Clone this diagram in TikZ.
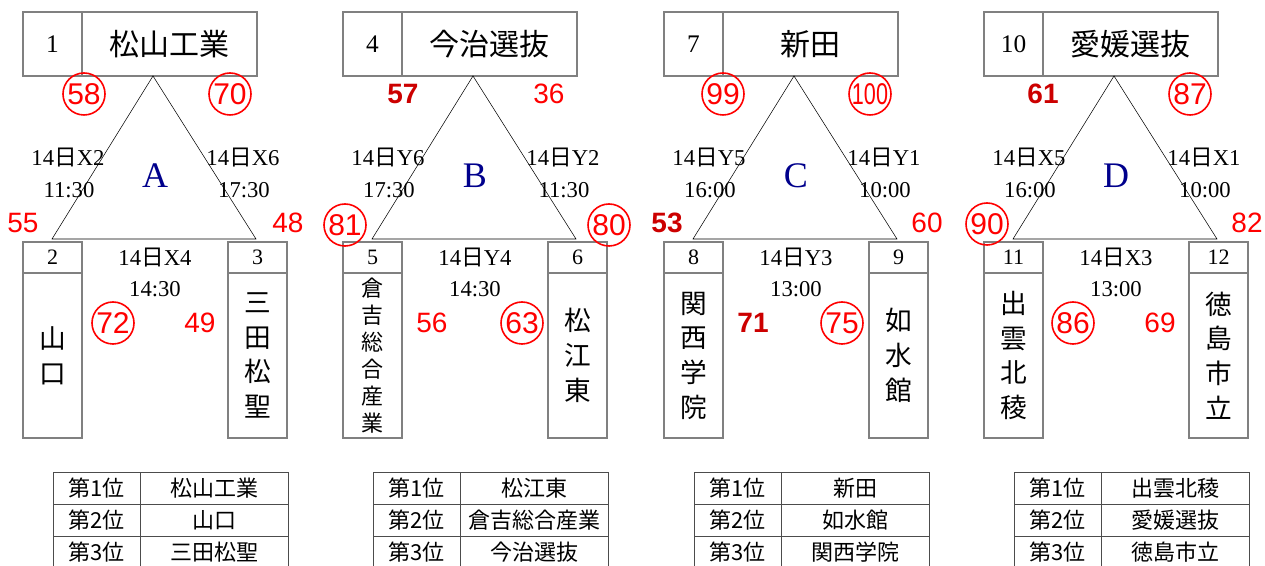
\documentclass[tikz,border=0pt]{standalone}
\usepackage{fontspec}
\setmainfont{Liberation Serif}
\newfontfamily\jp{Noto Sans CJK JP}
\newfontfamily\scorefont{Liberation Sans}
\usetikzlibrary{positioning}

\begin{document}
\begin{tikzpicture}[x=0.75pt, y=-0.75pt,
box/.style={draw=black!50, thick, inner sep=0pt, outer sep=0pt},
numbox/.style={box, minimum width=44.25pt, minimum height=48pt, font=\fontsize{19}{22}\selectfont},
namebox/.style={box, minimum width=131.25pt, minimum height=48pt, font=\fontsize{22.5}{26}\selectfont\jp},
headbox/.style={box, minimum width=44.25pt, minimum height=23.25pt, font=\fontsize{16.5}{19}\selectfont},
teambox/.style={box, minimum width=44.25pt, minimum height=123.75pt, align=center, font=\fontsize{20}{26}\selectfont\jp},
longteam/.style={teambox, font=\fontsize{16.5}{20.25}\selectfont\jp},
datelabel/.style={inner sep=0pt, font=\fontsize{17}{20}\selectfont},
grouplabel/.style={inner sep=0pt, text=blue!55!black, font=\fontsize{27}{30}\selectfont},
score/.style={inner sep=0pt, text=red, font=\scorefont\fontsize{21}{24}\selectfont},
lost/.style={score, text=red!80!black, font=\scorefont\bfseries\fontsize{21}{24}\selectfont},
win/.style={score, circle, draw=red, line width=1.2pt, minimum size=31.5pt, font=\scorefont\fontsize{22.5}{24}\selectfont},
rankcell/.style={draw=black!70, inner sep=0pt, outer sep=0pt, minimum width=65.25pt, minimum height=24pt, font=\fontsize{16.5}{19}\selectfont\jp},
teamcell/.style={rankcell, minimum width=111pt}
]
\useasboundingbox (0,0) rectangle (1265,566);

%Group A
\begin{scope}
    %Nodes
    \node[numbox] (A1no) at (52.5,44) {1};
    \node[namebox] (A1) [right=0pt of A1no] {松山工業};
    \node[headbox] (A2no) at (52.5,257.5) {2};
    \node[teambox] (A2) [below=0pt of A2no] {山\\口};
    \node[headbox] (A3no) at (257.5,257.5) {3};
    \node[teambox] (A3) [below=0pt of A3no] {三\\田\\松\\聖};
    \coordinate (Atop) at (153,76);
    \coordinate (Aleft) at (52,239);
    \coordinate (Aright) at (256,239);
    \node[grouplabel] (Agrp) at (155,176) {A};
    \node[datelabel] (AdayL) at (68,158) {14{\jp 日}X2};
    \node[datelabel] (AtimeL) at (69,190) {11:30};
    \node[datelabel] (AdayR) at (243,158) {14{\jp 日}X6};
    \node[datelabel] (AtimeR) at (244,190) {17:30};
    \node[datelabel] (AdayB) at (155,258) {14{\jp 日}X4};
    \node[datelabel] (AtimeB) at (155,289) {14:30};
    \node[win] (As1) at (84,94) {58};
    \node[win] (As2) at (230,94) {70};
    \node[score] (As3) at (23,223) {55};
    \node[score] (As4) at (288,223) {48};
    \node[win] (As5) at (113,323) {72};
    \node[score] (As6) at (200,323) {49};
    \node[rankcell] (Ar1) at (96.5,488) {第1位};
    \node[teamcell] (At1) [right=0pt of Ar1] {松山工業};
    \node[rankcell] (Ar2) [below=0pt of Ar1] {第2位};
    \node[teamcell] (At2) [right=0pt of Ar2] {山口};
    \node[rankcell] (Ar3) [below=0pt of Ar2] {第3位};
    \node[teamcell] (At3) [right=0pt of Ar3] {三田松聖};
    %Lines
    \draw[thin] (Atop) -- (Aleft) -- (Aright) -- cycle;
\end{scope}

%Group B
\begin{scope}[shift={(320,0)}]
    %Nodes
    \node[numbox] (B1no) at (52.5,44) {4};
    \node[namebox] (B1) [right=0pt of B1no] {今治選抜};
    \node[headbox] (B2no) at (52.5,257.5) {5};
    \node[longteam] (B2) [below=0pt of B2no] {倉\\吉\\総\\合\\産\\業};
    \node[headbox] (B3no) at (257.5,257.5) {6};
    \node[teambox] (B3) [below=0pt of B3no] {松\\江\\東};
    \coordinate (Btop) at (153,76);
    \coordinate (Bleft) at (52,239);
    \coordinate (Bright) at (256,239);
    \node[grouplabel] (Bgrp) at (155,176) {B};
    \node[datelabel] (BdayL) at (68,158) {14{\jp 日}Y6};
    \node[datelabel] (BtimeL) at (69,190) {17:30};
    \node[datelabel] (BdayR) at (243,158) {14{\jp 日}Y2};
    \node[datelabel] (BtimeR) at (244,190) {11:30};
    \node[datelabel] (BdayB) at (155,258) {14{\jp 日}Y4};
    \node[datelabel] (BtimeB) at (155,289) {14:30};
    \node[lost] (Bs1) at (83,94) {57};
    \node[score] (Bs2) at (229,94) {36};
    \node[win] (Bs3) at (25,225) {81};
    \node[win] (Bs4) at (289,225) {80};
    \node[score] (Bs5) at (112,323) {56};
    \node[win] (Bs6) at (202,323) {63};
    \node[rankcell] (Br1) at (96.5,488) {第1位};
    \node[teamcell] (Bt1) [right=0pt of Br1] {松江東};
    \node[rankcell] (Br2) [below=0pt of Br1] {第2位};
    \node[teamcell] (Bt2) [right=0pt of Br2] {倉吉総合産業};
    \node[rankcell] (Br3) [below=0pt of Br2] {第3位};
    \node[teamcell] (Bt3) [right=0pt of Br3] {今治選抜};
    %Lines
    \draw[thin] (Btop) -- (Bleft) -- (Bright) -- cycle;
\end{scope}

%Group C
\begin{scope}[shift={(641,0)}]
    %Nodes
    \node[numbox] (C1no) at (52.5,44) {7};
    \node[namebox] (C1) [right=0pt of C1no] {新田};
    \node[headbox] (C2no) at (52.5,257.5) {8};
    \node[teambox] (C2) [below=0pt of C2no] {関\\西\\学\\院};
    \node[headbox] (C3no) at (257.5,257.5) {9};
    \node[teambox] (C3) [below=0pt of C3no] {如\\水\\館};
    \coordinate (Ctop) at (153,76);
    \coordinate (Cleft) at (52,239);
    \coordinate (Cright) at (256,239);
    \node[grouplabel] (Cgrp) at (155,176) {C};
    \node[datelabel] (CdayL) at (68,158) {14{\jp 日}Y5};
    \node[datelabel] (CtimeL) at (69,190) {16:00};
    \node[datelabel] (CdayR) at (243,158) {14{\jp 日}Y1};
    \node[datelabel] (CtimeR) at (244,190) {10:00};
    \node[datelabel] (CdayB) at (155,258) {14{\jp 日}Y3};
    \node[datelabel] (CtimeB) at (155,289) {13:00};
    \node[win] (Cs1) at (82,94) {99};
    \node[win] (Cs2) at (229,94) {\scalebox{0.72}[1]{100}};
    \node[lost] (Cs3) at (26,223) {53};
    \node[score] (Cs4) at (286,223) {60};
    \node[lost] (Cs5) at (112,323) {71};
    \node[win] (Cs6) at (201,323) {75};
    \node[rankcell] (Cr1) at (96.5,488) {第1位};
    \node[teamcell] (Ct1) [right=0pt of Cr1] {新田};
    \node[rankcell] (Cr2) [below=0pt of Cr1] {第2位};
    \node[teamcell] (Ct2) [right=0pt of Cr2] {如水館};
    \node[rankcell] (Cr3) [below=0pt of Cr2] {第3位};
    \node[teamcell] (Ct3) [right=0pt of Cr3] {関西学院};
    %Lines
    \draw[thin] (Ctop) -- (Cleft) -- (Cright) -- cycle;
\end{scope}

%Group D
\begin{scope}[shift={(961,0)}]
    %Nodes
    \node[numbox] (D1no) at (52.5,44) {10};
    \node[namebox] (D1) [right=0pt of D1no] {愛媛選抜};
    \node[headbox] (D2no) at (52.5,257.5) {11};
    \node[teambox] (D2) [below=0pt of D2no] {出\\雲\\北\\稜};
    \node[headbox] (D3no) at (257.5,257.5) {12};
    \node[teambox] (D3) [below=0pt of D3no] {徳\\島\\市\\立};
    \coordinate (Dtop) at (153,76);
    \coordinate (Dleft) at (52,239);
    \coordinate (Dright) at (256,239);
    \node[grouplabel] (Dgrp) at (155,176) {D};
    \node[datelabel] (DdayL) at (68,158) {14{\jp 日}X5};
    \node[datelabel] (DtimeL) at (69,190) {16:00};
    \node[datelabel] (DdayR) at (243,158) {14{\jp 日}X1};
    \node[datelabel] (DtimeR) at (244,190) {10:00};
    \node[datelabel] (DdayB) at (155,258) {14{\jp 日}X3};
    \node[datelabel] (DtimeB) at (155,289) {13:00};
    \node[lost] (Ds1) at (82,94) {61};
    \node[win] (Ds2) at (229,94) {87};
    \node[win] (Ds3) at (26,224) {90};
    \node[score] (Ds4) at (286,223) {82};
    \node[win] (Ds5) at (112,323) {86};
    \node[score] (Ds6) at (199,323) {69};
    \node[rankcell] (Dr1) at (96.5,488) {第1位};
    \node[teamcell] (Dt1) [right=0pt of Dr1] {出雲北稜};
    \node[rankcell] (Dr2) [below=0pt of Dr1] {第2位};
    \node[teamcell] (Dt2) [right=0pt of Dr2] {愛媛選抜};
    \node[rankcell] (Dr3) [below=0pt of Dr2] {第3位};
    \node[teamcell] (Dt3) [right=0pt of Dr3] {徳島市立};
    %Lines
    \draw[thin] (Dtop) -- (Dleft) -- (Dright) -- cycle;
\end{scope}
\end{tikzpicture}
\end{document}
